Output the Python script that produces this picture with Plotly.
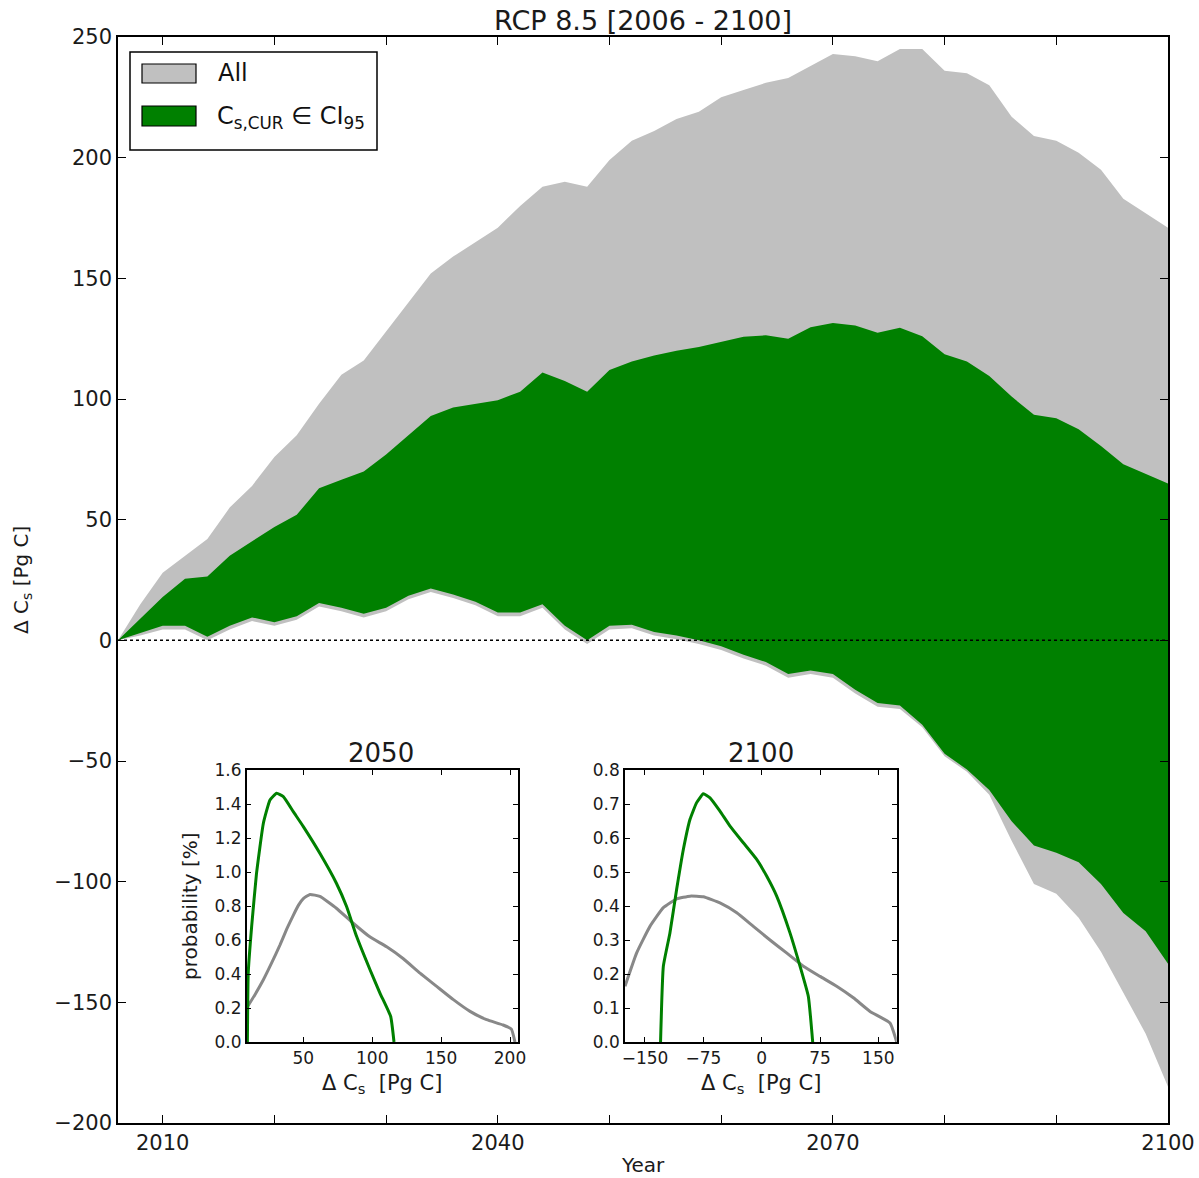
import plotly.graph_objects as go

# ---------------- data ----------------
YEARS = [2006, 2008, 2010, 2012, 2014, 2016, 2018, 2020, 2022, 2024, 2026, 2028,
         2030, 2032, 2034, 2036, 2038, 2040, 2042, 2044, 2046, 2048, 2050, 2052,
         2054, 2056, 2058, 2060, 2062, 2064, 2066, 2068, 2070, 2072, 2074, 2076,
         2078, 2080, 2082, 2084, 2086, 2088, 2090, 2092, 2094, 2096, 2098, 2100]

ALL_UPPER = [0, 15, 28, 35, 42, 55, 64, 76, 85, 98, 110, 116,
             128, 140, 152, 159, 165, 171, 180, 188, 190, 188, 199, 207,
             211, 216, 219, 225, 228, 231, 233, 238, 243, 242, 240, 245,
             245, 236, 235, 230, 217, 209, 207, 202, 195, 183, 177, 171]

ALL_LOWER = [0, 2, 4.5, 4.5, 0, 4.5, 8, 6, 8.5, 14, 12, 9.5,
             12, 17, 20, 17.5, 14.5, 10, 10, 13.5, 4.5, -1.5, 4.5, 5,
             2, 0.5, -1.5, -4, -7.5, -10.5, -15.5, -14, -15.5, -22, -27.5, -28.5,
             -36, -48, -54.5, -64, -83, -101, -105, -115, -129, -146, -163, -185]

CI_UPPER = [0, 9, 18, 25.5, 26.5, 35, 41, 47, 52, 63, 66.5, 70,
            77, 85, 93, 96.5, 98, 99.5, 103, 111, 107.5, 103, 112, 115.5,
            118, 120, 121.5, 123.6, 125.8, 126.4, 125, 129.7, 131.5, 130.5, 127.5, 129.5,
            126, 118.5, 115.5, 109.5, 101, 93.5, 92, 87.5, 80.5, 73, 69, 65]

CI_LOWER = [0, 3, 6, 6, 1.5, 6, 9.5, 7.5, 10, 15.5, 13.5, 11,
            13.5, 18.5, 21.5, 19, 16, 11.5, 11.5, 15, 6, 0, 6, 6.5,
            3.5, 2, 0, -2.5, -6, -9, -14, -12.5, -14, -20.5, -26, -27,
            -35, -47, -53.5, -62, -75, -85, -88, -92, -101, -113, -120.5, -134]

# inset 2050
P2050_ALL_X = [8.9, 15, 21, 27, 33, 38, 42.7, 46.5, 50, 54.8, 62, 74, 86, 98, 110.5, 122.6,
               134.7, 146.8, 158.9, 171, 183, 195, 201, 203.6]
P2050_ALL_Y = [0.2, 0.28, 0.366, 0.465, 0.57, 0.665, 0.745, 0.805, 0.843, 0.868, 0.856, 0.787,
               0.70, 0.62, 0.56, 0.49, 0.405, 0.327, 0.249, 0.18, 0.131, 0.10, 0.076, 0.0]
P2050_CI_X = [9.4, 10, 12.5, 16, 21, 25.8, 30.6, 35.5, 42.7, 50, 62, 74,
              81.4, 88.7, 98.4, 105.6, 113.4, 115.8]
P2050_CI_Y = [0.0, 0.405, 0.68, 0.99, 1.287, 1.424, 1.463, 1.443, 1.355, 1.267, 1.11, 0.934,
              0.797, 0.62, 0.425, 0.288, 0.15, 0.0]

# inset 2100
P2100_ALL_X = [-175.7, -160.7, -143.6, -126.4, -109.3, -92, -75, -53.6, -32, -10.7, 10.7, 32,
               53.6, 75, 96.4, 117.9, 139.3, 165, 173.6]
P2100_ALL_Y = [0.164, 0.262, 0.34, 0.395, 0.421, 0.429, 0.427, 0.409, 0.38, 0.34, 0.30, 0.262,
               0.223, 0.193, 0.164, 0.13, 0.09, 0.056, 0.0]
P2100_CI_X = [-130, -126.4, -118, -109.3, -100.7, -92.1, -83.6, -75, -66.4, -53.6, -40.7, -23.6,
              -6.4, 6.4, 19.3, 36.4, 49.3, 60, 65.6]
P2100_CI_Y = [0.0, 0.223, 0.32, 0.449, 0.566, 0.655, 0.704, 0.73, 0.718, 0.679, 0.635, 0.586,
              0.537, 0.488, 0.429, 0.321, 0.223, 0.134, 0.0]

MAIN_XTICKS = list(range(2010, 2101, 10))
MAIN_XLABELS = ["2010", "", "", "2040", "", "", "2070", "", "", "2100"]
MAIN_YTICKS = list(range(-200, 251, 50))

# ---------------- layout helpers ----------------
W, H = 1199, 1178
FONT = "DejaVu Sans"
GRAY_FILL = "#c0c0c0"
GREEN = "#008000"
LINE_GRAY = "#888888"
TXT = "#1a1a1a"


def px(x):
    return x / W


def py(y):
    return 1 - y / H


fig = go.Figure()

# main bands
fig.add_trace(go.Scatter(x=YEARS, y=ALL_LOWER, mode="lines", line=dict(width=0, color=GRAY_FILL),
                         showlegend=False, hoverinfo="skip", xaxis="x", yaxis="y"))
fig.add_trace(go.Scatter(x=YEARS, y=ALL_UPPER, mode="lines", line=dict(width=0, color=GRAY_FILL),
                         fill="tonexty", fillcolor=GRAY_FILL, name="All", showlegend=False,
                         xaxis="x", yaxis="y"))
fig.add_trace(go.Scatter(x=YEARS, y=CI_LOWER, mode="lines", line=dict(width=0, color=GREEN),
                         showlegend=False, hoverinfo="skip", xaxis="x", yaxis="y"))
fig.add_trace(go.Scatter(x=YEARS, y=CI_UPPER, mode="lines", line=dict(width=0, color=GREEN),
                         fill="tonexty", fillcolor=GREEN, name="Cs,CUR in CI95", showlegend=False,
                         xaxis="x", yaxis="y"))

# insets
fig.add_trace(go.Scatter(x=P2050_ALL_X, y=P2050_ALL_Y, mode="lines",
                         line=dict(color=LINE_GRAY, width=3, shape="spline", smoothing=0.4),
                         showlegend=False, xaxis="x2", yaxis="y2"))
fig.add_trace(go.Scatter(x=P2050_CI_X, y=P2050_CI_Y, mode="lines",
                         line=dict(color=GREEN, width=3, shape="spline", smoothing=0.4),
                         showlegend=False, xaxis="x2", yaxis="y2"))
fig.add_trace(go.Scatter(x=P2100_ALL_X, y=P2100_ALL_Y, mode="lines",
                         line=dict(color=LINE_GRAY, width=3, shape="spline", smoothing=0.4),
                         showlegend=False, xaxis="x3", yaxis="y3"))
fig.add_trace(go.Scatter(x=P2100_CI_X, y=P2100_CI_Y, mode="lines",
                         line=dict(color=GREEN, width=3, shape="spline", smoothing=0.4),
                         showlegend=False, xaxis="x3", yaxis="y3"))

axis_common = dict(showline=True, linecolor="black", linewidth=1.5, mirror="allticks",
                   ticks="inside", tickcolor="black", showgrid=False, zeroline=False,
                   automargin=False)

main_x = dict(axis_common, domain=[px(118), px(1168)], range=[2006, 2100],
              tickvals=MAIN_XTICKS, ticktext=MAIN_XLABELS, ticklen=8, tickwidth=1,
              tickfont=dict(family=FONT, size=21, color=TXT), anchor="y")
main_y = dict(axis_common, domain=[py(1123), py(37)], range=[-200, 250],
              tickvals=MAIN_YTICKS, ticklen=8, tickwidth=1,
              tickfont=dict(family=FONT, size=21, color=TXT), anchor="x")

ins1_x = dict(axis_common, domain=[px(246.7), px(518)], range=[8.9, 205.8],
              tickvals=[50, 100, 150, 200], ticklen=5, tickwidth=1,
              tickfont=dict(family=FONT, size=17, color=TXT), anchor="y2")
ins1_y = dict(axis_common, domain=[py(1042), py(770)], range=[0, 1.6],
              tickvals=[0, 0.2, 0.4, 0.6, 0.8, 1.0, 1.2, 1.4, 1.6], tickformat=".1f",
              ticklen=5, tickwidth=1,
              tickfont=dict(family=FONT, size=17, color=TXT), anchor="x2")
ins2_x = dict(axis_common, domain=[px(625), px(896.7)], range=[-175.7, 173.6],
              tickvals=[-150, -75, 0, 75, 150], ticklen=5, tickwidth=1,
              tickfont=dict(family=FONT, size=17, color=TXT), anchor="y3")
ins2_y = dict(axis_common, domain=[py(1042), py(770)], range=[0, 0.8],
              tickvals=[0, 0.1, 0.2, 0.3, 0.4, 0.5, 0.6, 0.7, 0.8], tickformat=".1f",
              ticklen=5, tickwidth=1,
              tickfont=dict(family=FONT, size=17, color=TXT), anchor="x3")

shapes = [
    # dotted zero line
    dict(type="line", xref="x", yref="y", x0=2006, x1=2100, y0=0, y1=0,
         line=dict(color="black", width=1.5, dash="dot"), layer="above"),
    # legend frame
    dict(type="rect", xref="paper", yref="paper", x0=px(130), x1=px(377), y0=py(150), y1=py(52),
         line=dict(color="black", width=1.5), fillcolor="white", layer="above"),
    dict(type="rect", xref="paper", yref="paper", x0=px(142), x1=px(196), y0=py(83), y1=py(64),
         line=dict(color="black", width=1.2), fillcolor=GRAY_FILL, layer="above"),
    dict(type="rect", xref="paper", yref="paper", x0=px(142), x1=px(196), y0=py(126), y1=py(106),
         line=dict(color="black", width=1.2), fillcolor=GREEN, layer="above"),
]

annotations = [
    dict(text="RCP 8.5 [2006 - 2100]", x=px(643), y=py(20), xref="paper", yref="paper",
         showarrow=False, font=dict(family=FONT, size=27, color=TXT),
         xanchor="center", yanchor="middle"),
    dict(text="Year", x=px(643), y=py(1165), xref="paper", yref="paper",
         showarrow=False, font=dict(family=FONT, size=20, color=TXT),
         xanchor="center", yanchor="middle"),
    dict(text="Δ C<sub>s</sub> [Pg C]", x=px(22), y=py(580), xref="paper", yref="paper",
         showarrow=False, textangle=-90, font=dict(family=FONT, size=20, color=TXT),
         xanchor="center", yanchor="middle"),
    dict(text="2050", x=px(381), y=py(753), xref="paper", yref="paper",
         showarrow=False, font=dict(family=FONT, size=26, color=TXT),
         xanchor="center", yanchor="middle"),
    dict(text="2100", x=px(761), y=py(753), xref="paper", yref="paper",
         showarrow=False, font=dict(family=FONT, size=26, color=TXT),
         xanchor="center", yanchor="middle"),
    dict(text="Δ C<sub>s</sub>  [Pg C]", x=px(382), y=py(1084), xref="paper", yref="paper",
         showarrow=False, font=dict(family=FONT, size=21, color=TXT),
         xanchor="center", yanchor="middle"),
    dict(text="Δ C<sub>s</sub>  [Pg C]", x=px(761), y=py(1084), xref="paper", yref="paper",
         showarrow=False, font=dict(family=FONT, size=21, color=TXT),
         xanchor="center", yanchor="middle"),
    dict(text="probability [%]", x=px(190), y=py(906), xref="paper", yref="paper",
         showarrow=False, textangle=-90, font=dict(family=FONT, size=20, color=TXT),
         xanchor="center", yanchor="middle"),
    # legend labels
    dict(text="All", x=px(216), y=py(73), xref="paper", yref="paper",
         showarrow=False, font=dict(family=FONT, size=24, color="#111111"),
         xanchor="left", yanchor="middle"),
    dict(text="C<sub>s,CUR</sub> ∈ CI<sub>95</sub>", x=px(215), y=py(118), xref="paper", yref="paper",
         showarrow=False, font=dict(family=FONT, size=24, color="#111111"),
         xanchor="left", yanchor="middle"),
]

fig.update_layout(
    width=W, height=H,
    margin=dict(l=0, r=0, t=0, b=0, pad=0, autoexpand=False),
    paper_bgcolor="white", plot_bgcolor="white",
    showlegend=False,
    font=dict(family=FONT, color=TXT),
    xaxis=main_x, yaxis=main_y,
    xaxis2=ins1_x, yaxis2=ins1_y,
    xaxis3=ins2_x, yaxis3=ins2_y,
    shapes=shapes, annotations=annotations,
)

fig.write_html("out.html")
